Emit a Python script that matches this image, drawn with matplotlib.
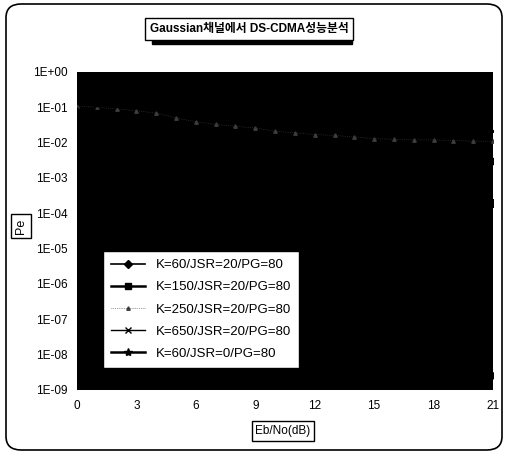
import numpy as np
import matplotlib.pyplot as plt
from matplotlib.patches import FancyBboxPatch, Rectangle
from matplotlib.ticker import FixedLocator, FixedFormatter

plt.rcParams['font.family'] = ['Liberation Sans', 'Noto Sans CJK KR', 'DejaVu Sans']

# Eb/No (dB)
ebno = [0, 1, 2, 3, 4, 5, 6, 7, 8, 9, 10, 11, 12, 13, 14, 15, 16, 17, 18, 19, 20, 21]

pe_k60 = [9e-2, 7e-2, 5.5e-2, 4e-2, 2.8e-2, 1.9e-2, 1.3e-2, 8.5e-3, 5.5e-3, 3.6e-3, 2.4e-3,
          1.6e-3, 1.1e-3, 8e-4, 6e-4, 4.6e-4, 3.7e-4, 3.1e-4, 2.7e-4, 2.4e-4, 2.2e-4, 2e-4]
pe_k150 = [1e-1, 8.5e-2, 7e-2, 5.6e-2, 4.4e-2, 3.4e-2, 2.6e-2, 2e-2, 1.5e-2, 1.15e-2, 9e-3,
           7.2e-3, 6e-3, 5.1e-3, 4.5e-3, 4e-3, 3.7e-3, 3.4e-3, 3.2e-3, 3.1e-3, 3e-3, 3e-3]
pe_k250 = [1.1e-1, 1e-1, 9e-2, 8e-2, 6.9e-2, 5e-2, 3.9e-2, 3.3e-2, 2.9e-2, 2.6e-2, 2.1e-2,
           1.9e-2, 1.7e-2, 1.6e-2, 1.45e-2, 1.3e-2, 1.25e-2, 1.2e-2, 1.2e-2, 1.15e-2, 1.1e-2, 1.1e-2]
pe_k650 = [1.3e-1, 1.2e-1, 1.1e-1, 1e-1, 9e-2, 8e-2, 7e-2, 6.2e-2, 5.5e-2, 4.8e-2, 4.3e-2,
           3.9e-2, 3.5e-2, 3.2e-2, 2.9e-2, 2.7e-2, 2.5e-2, 2.4e-2, 2.3e-2, 2.2e-2, 2.2e-2, 2.1e-2]
pe_k60_j0 = [8e-2, 5.5e-2, 3.7e-2, 2.3e-2, 1.3e-2, 7e-3, 3.5e-3, 1.6e-3, 7e-4, 2.8e-4, 1.1e-4,
             4e-5, 1.4e-5, 5e-6, 1.7e-6, 6e-7, 2.2e-7, 8e-8, 3e-8, 1.2e-8, 5e-9, 2.5e-9]

labels = ['K=60/JSR=20/PG=80', 'K=150/JSR=20/PG=80', 'K=250/JSR=20/PG=80',
          'K=650/JSR=20/PG=80', 'K=60/JSR=0/PG=80']
yticks = [1e0, 1e-1, 1e-2, 1e-3, 1e-4, 1e-5, 1e-6, 1e-7, 1e-8, 1e-9]
ytick_labels = ['1E+00', '1E-01', '1E-02', '1E-03', '1E-04', '1E-05', '1E-06', '1E-07', '1E-08', '1E-09']
xticks = [0, 3, 6, 9, 12, 15, 18, 21]

fig = plt.figure(figsize=(5.06, 4.54), dpi=100)
W, H = 506, 454

# outer chart border with rounded corners
fig.patches.append(FancyBboxPatch((6 / W, 4 / H), 496 / W, 446 / H,
                                  boxstyle='round,pad=0,rounding_size=0.03',
                                  transform=fig.transFigure, fc='none', ec='black', lw=1.2))

ax = fig.add_axes([77 / W, 1 - 390 / H, 416 / W, 318 / H])
ax.set_facecolor('black')

ax.plot(ebno, pe_k60, color='black', marker='D', ms=4, lw=1.2, label=labels[0])
ax.plot(ebno, pe_k150, color='black', marker='s', ms=5, lw=1.8, label=labels[1])
ax.plot(ebno, pe_k250, color='#3c3c3c', marker='^', ms=2.5, lw=0.5, ls=':', label=labels[2])
ax.plot(ebno, pe_k650, color='black', marker='x', ms=5, lw=1.0, label=labels[3])
ax.plot(ebno, pe_k60_j0, color='black', marker='*', ms=6, lw=1.8, label=labels[4])

ax.set_yscale('log')
ax.set_ylim(1e-9, 1)
ax.set_xlim(0, 21)
ax.yaxis.set_major_locator(FixedLocator(yticks))
ax.yaxis.set_major_formatter(FixedFormatter(ytick_labels))
ax.yaxis.set_minor_locator(FixedLocator([]))
ax.set_xticks(xticks)
ax.tick_params(length=0, labelsize=8.5, pad=7)
for s in ax.spines.values():
    s.set_visible(False)

leg = ax.legend(loc='lower left', bbox_to_anchor=(0.062, 0.07), fontsize=9.5,
                frameon=True, fancybox=False, edgecolor='black', framealpha=1,
                labelspacing=0.75, handlelength=2.6, borderpad=0.6, borderaxespad=0)
leg.get_frame().set_linewidth(1.0)

# title box with drop shadow
fig.patches.append(Rectangle((152 / W, 1 - 44 / H), 200 / W, 24 / H,
                             transform=fig.transFigure, fc='black', ec='black'))
fig.text(249 / W, 1 - 29 / H, 'Gaussian채널에서 DS-CDMA성능분석', ha='center', va='center',
         fontsize=8.5, fontweight='bold',
         bbox=dict(boxstyle='square,pad=0.4', fc='white', ec='black', lw=1.0))

# axis titles in small boxes
fig.text(21 / W, 1 - 226 / H, 'Pe', rotation=90, ha='center', va='center', fontsize=9,
         bbox=dict(boxstyle='square,pad=0.35', fc='white', ec='black', lw=1.0))
fig.text(283 / W, 1 - 431 / H, 'Eb/No(dB)', ha='center', va='center', fontsize=8.5,
         bbox=dict(boxstyle='square,pad=0.3', fc='white', ec='black', lw=1.0))

fig.savefig('out.png', dpi=100)
